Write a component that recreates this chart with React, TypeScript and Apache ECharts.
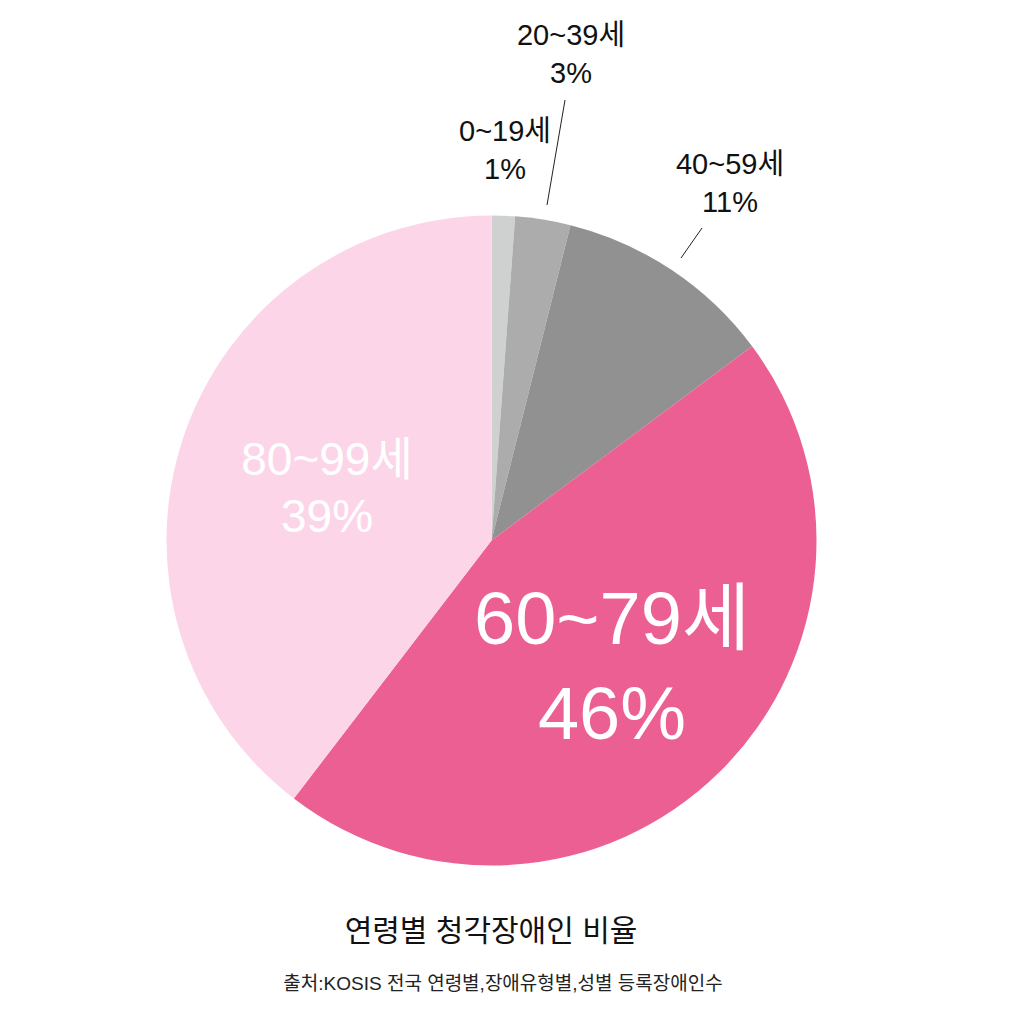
import React, { useEffect, useRef } from "react";
import * as echarts from "echarts";

// Age groups (clockwise from 12 o'clock)
const categories = ["0~19세", "20~39세", "40~59세", "60~79세", "80~99세"];
// Slice shares (%)
const shares = [1.16, 2.75, 10.9, 45.6, 39.6];
// Percent labels as printed on the chart
const printedPercents = [1, 3, 11, 46, 39];
const colors = ["#CFD1D0", "#ABACAB", "#919191", "#EC5F92", "#FDD5E8"];

const titleText = "연령별 청각장애인 비율";
const sourceText = "출처:KOSIS 전국 연령별,장애유형별,성별 등록장애인수";

const FONT = "'Liberation Sans', 'Noto Sans CJK KR', sans-serif";

// label layout (positions of label blocks)
const labelPos: Record<number, { x: number; y: number; line?: number[][] }> = {
  0: { x: 505, y: 150 },
  1: { x: 571, y: 54, line: [[547, 205], [565, 100]] },
  2: { x: 730, y: 183, line: [[681, 258], [702, 228]] },
  3: { x: 612, y: 666 },
  4: { x: 327, y: 487 },
};

const labelStyles = [
  { fontSize: 29, lineHeight: 38, color: "#111111" },
  { fontSize: 29, lineHeight: 38, color: "#111111" },
  { fontSize: 29, lineHeight: 38, color: "#111111" },
  { fontSize: 74, lineHeight: 95, color: "#FFFFFF" },
  { fontSize: 46, lineHeight: 57, color: "#FFFFFF" },
];

export default function App() {
  const ref = useRef<HTMLDivElement>(null);
  useEffect(() => {
    if (!ref.current) return;
    const chart = echarts.init(ref.current, null, { renderer: "svg" });
    const data = categories.map((name, i) => ({
      name,
      value: shares[i],
      itemStyle: { color: colors[i] },
      label: {
        show: true,
        position: i < 3 ? "outside" : "inside",
        fontFamily: FONT,
        fontSize: labelStyles[i].fontSize,
        lineHeight: labelStyles[i].lineHeight,
        color: labelStyles[i].color,
        align: "center",
      },
      labelLine: {
        show: i === 1 || i === 2,
        lineStyle: { color: "#222222", width: 1 },
      },
    }));
    chart.setOption({
      animation: false,
      backgroundColor: "#FFFFFF",
      series: [
        {
          type: "pie",
          center: [491.5, 540.5],
          radius: 325,
          startAngle: 90,
          clockwise: true,
          avoidLabelOverlap: false,
          silent: true,
          emphasis: { disabled: true },
          itemStyle: { borderWidth: 0 },
          label: {
            formatter: (p: any) => `${p.name}\n${printedPercents[p.dataIndex]}%`,
          },
          labelLayout: (p: any) => {
            const pos = labelPos[p.dataIndex];
            const out: any = {
              x: pos.x,
              y: pos.y,
              align: "center",
              verticalAlign: "middle",
              hideOverlap: false,
            };
            if (pos.line) out.labelLinePoints = pos.line;
            return out;
          },
          data,
        },
      ],
      graphic: [
        {
          type: "text",
          x: 491,
          y: 930,
          style: {
            text: titleText,
            fontFamily: FONT,
            fontSize: 30,
            fill: "#111111",
            align: "center",
            verticalAlign: "middle",
          },
        },
        {
          type: "text",
          x: 503,
          y: 983,
          style: {
            text: sourceText,
            fontFamily: FONT,
            fontSize: 19,
            fill: "#222222",
            align: "center",
            verticalAlign: "middle",
          },
        },
      ],
    });
    return () => chart.dispose();
  }, []);
  return (
    <div
      ref={ref}
      style={{ position: "fixed", left: 0, top: 0, width: 1020, height: 1020 }}
    />
  );
}
